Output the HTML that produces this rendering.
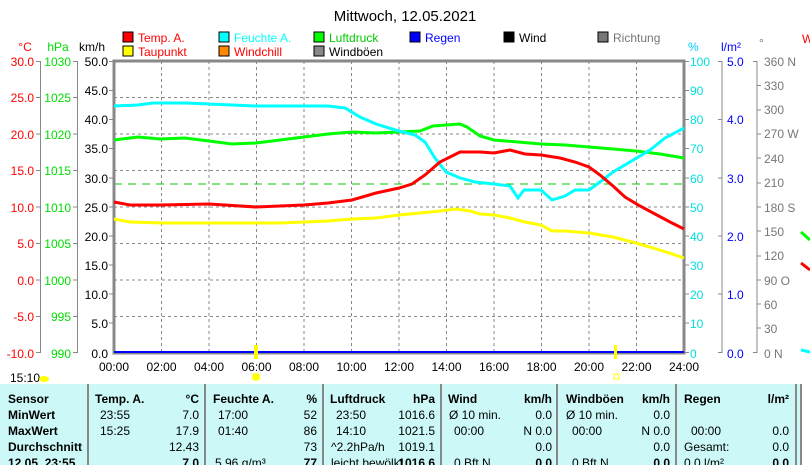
<!DOCTYPE html>
<html><head><meta charset="utf-8"><style>
body{margin:0;background:#fff;width:810px;height:465px;overflow:hidden;font-family:"Liberation Sans",sans-serif}
svg text{font-family:"Liberation Sans",sans-serif;font-size:12px}
</style></head><body>
<svg width="810" height="465" xmlns="http://www.w3.org/2000/svg">
<text x="405" y="21" text-anchor="middle" font-size="15" style="font-size:15px">Mittwoch, 12.05.2021</text>
<g font-size="12">
<rect x="123" y="32" width="10" height="10" fill="#f00" stroke="#000"/><text x="138" y="42" fill="#f00">Temp. A.</text>
<rect x="123" y="46" width="10" height="10" fill="#ff0" stroke="#000"/><text x="138" y="56" fill="#f00">Taupunkt</text>
<rect x="219" y="32" width="10" height="10" fill="#0ff" stroke="#000"/><text x="234" y="42" fill="#0ff">Feuchte A.</text>
<rect x="219" y="46" width="10" height="10" fill="#f80" stroke="#000"/><text x="234" y="56" fill="#f00">Windchill</text>
<rect x="314" y="32" width="10" height="10" fill="#0f0" stroke="#000"/><text x="329" y="42" fill="#0c0">Luftdruck</text>
<rect x="314" y="46" width="10" height="10" fill="#888" stroke="#000"/><text x="329" y="56">Windböen</text>
<rect x="410" y="32" width="10" height="10" fill="#00f" stroke="#000"/><text x="425" y="42" fill="#00f">Regen</text>
<rect x="504" y="32" width="10" height="10" fill="#000" stroke="#000"/><text x="519" y="42">Wind</text>
<rect x="598" y="32" width="10" height="10" fill="#777" stroke="#000"/><text x="613" y="42" fill="#777">Richtung</text>
</g>
<text x="25" y="51" fill="#f00" text-anchor="middle">°C</text>
<text x="58" y="51" fill="#0d0" text-anchor="middle">hPa</text>
<text x="92" y="51" text-anchor="middle">km/h</text>
<text x="688" y="51" fill="#0cf">%</text>
<text x="721" y="51" fill="#00f">l/m²</text>
<text x="759" y="47" fill="#777" font-size="9">°</text>
<text x="802" y="43" fill="#f00">W</text>
<g stroke="#888" stroke-dasharray="3,3" stroke-width="1">
<line x1="161.5" y1="61" x2="161.5" y2="353"/><line x1="209" y1="61" x2="209" y2="353"/><line x1="256.5" y1="61" x2="256.5" y2="353"/><line x1="304" y1="61" x2="304" y2="353"/><line x1="351.5" y1="61" x2="351.5" y2="353"/><line x1="399" y1="61" x2="399" y2="353"/><line x1="446.5" y1="61" x2="446.5" y2="353"/><line x1="494" y1="61" x2="494" y2="353"/><line x1="541.5" y1="61" x2="541.5" y2="353"/><line x1="589" y1="61" x2="589" y2="353"/><line x1="636.5" y1="61" x2="636.5" y2="353"/>
<line x1="114" y1="97.5" x2="684" y2="97.5"/><line x1="114" y1="134" x2="684" y2="134"/><line x1="114" y1="170.5" x2="684" y2="170.5"/><line x1="114" y1="207" x2="684" y2="207"/><line x1="114" y1="243.5" x2="684" y2="243.5"/><line x1="114" y1="280" x2="684" y2="280"/><line x1="114" y1="316.5" x2="684" y2="316.5"/>
</g>
<line x1="114" y1="184" x2="684" y2="184" stroke="#0c0" stroke-dasharray="8,6"/>
<rect x="114" y="61" width="570" height="292" fill="none" stroke="#888" stroke-width="3"/>
<g stroke="#888"><line x1="40.5" y1="61" x2="40.5" y2="353"/><line x1="77.5" y1="61" x2="77.5" y2="353"/>
<line x1="722" y1="61" x2="722" y2="353"/><line x1="757" y1="61" x2="757" y2="353"/>
<path d="M36 61.5h5M36 97.5h5M36 134h5M36 170.5h5M36 207h5M36 243.5h5M36 280h5M36 316.5h5M36 352.5h5
M73 61.5h5M73 97.5h5M73 134h5M73 170.5h5M73 207h5M73 243.5h5M73 280h5M73 316.5h5M73 352.5h5
M109 61.5h5M109 90.5h5M109 119.5h5M109 148.5h5M109 178h5M109 207h5M109 236h5M109 265h5M109 294h5M109 323h5
M684 61.5h5M684 90.5h5M684 119.5h5M684 148.5h5M684 178h5M684 207h5M684 236h5M684 265h5M684 294h5M684 323h5M684 352.5h5
M718 61.5h4M718 119.5h4M718 178h4M718 236h4M718 294h4M718 352.5h4
M753 61.5h4M757 85.5h4M757 110h4M757 134h4M757 158h4M757 183h4M757 207h4M757 231h4M757 256h4M757 280h4M757 304h4M757 328h4M753 352.5h4"/></g>
<g font-size="12" text-anchor="end">
<g fill="#f00"><text x="34" y="66">30.0</text><text x="34" y="102">25.0</text><text x="34" y="139">20.0</text><text x="34" y="175">15.0</text><text x="34" y="212">10.0</text><text x="34" y="248">5.0</text><text x="34" y="285">0.0</text><text x="34" y="321">-5.0</text><text x="34" y="358">-10.0</text></g>
<g fill="#0d0"><text x="71" y="66">1030</text><text x="71" y="102">1025</text><text x="71" y="139">1020</text><text x="71" y="175">1015</text><text x="71" y="212">1010</text><text x="71" y="248">1005</text><text x="71" y="285">1000</text><text x="71" y="321">995</text><text x="71" y="358">990</text></g>
<g><text x="108" y="66">50.0</text><text x="108" y="95">45.0</text><text x="108" y="124">40.0</text><text x="108" y="153">35.0</text><text x="108" y="183">30.0</text><text x="108" y="212">25.0</text><text x="108" y="241">20.0</text><text x="108" y="270">15.0</text><text x="108" y="299">10.0</text><text x="108" y="328">5.0</text><text x="108" y="358">0.0</text></g>
</g>
<g font-size="12" fill="#0dd"><text x="690" y="66">100</text><text x="690" y="95">90</text><text x="690" y="124">80</text><text x="690" y="153">70</text><text x="690" y="183">60</text><text x="690" y="212">50</text><text x="690" y="241">40</text><text x="690" y="270">30</text><text x="690" y="299">20</text><text x="690" y="328">10</text><text x="690" y="358">0</text></g>
<g font-size="12" fill="#00f"><text x="727" y="66">5.0</text><text x="727" y="124">4.0</text><text x="727" y="183">3.0</text><text x="727" y="241">2.0</text><text x="727" y="299">1.0</text><text x="727" y="358">0.0</text></g>
<g font-size="11" fill="#777"><text x="764" y="66">360 N</text><text x="764" y="90">330</text><text x="764" y="114">300</text><text x="764" y="138">270 W</text><text x="764" y="163">240</text><text x="764" y="187">210</text><text x="764" y="212">180 S</text><text x="764" y="236">150</text><text x="764" y="260">120</text><text x="764" y="285">90 O</text><text x="764" y="309">60</text><text x="764" y="333">30</text><text x="764" y="358">0 N</text></g>
<g font-size="12" text-anchor="middle"><text x="114" y="371">00:00</text><text x="161.5" y="371">02:00</text><text x="209" y="371">04:00</text><text x="256.5" y="371">06:00</text><text x="304" y="371">08:00</text><text x="351.5" y="371">10:00</text><text x="399" y="371">12:00</text><text x="446.5" y="371">14:00</text><text x="494" y="371">16:00</text><text x="541.5" y="371">18:00</text><text x="589" y="371">20:00</text><text x="636.5" y="371">22:00</text><text x="684" y="371">24:00</text></g>
<line x1="114" y1="352" x2="684" y2="352" stroke="#00f" stroke-width="2"/>
<polyline fill="none" stroke="#0f0" stroke-width="3" points="114,140 138,137 160,139 185,138 209,141 232,144 256,143 280,140 304,137 328,134 352,132 376,133 399,132 420,131 433,126 446,125 460,124 467,127 480,136 494,140 518,142 541,144 565,145 589,147 613,149 636,151 660,154 684,158"/>
<polyline fill="none" stroke="#0ff" stroke-width="3" points="114,106 138,105 153,103 185,103 209,104 232,105 256,106 280,106 304,106 328,106 345,108 360,117 376,124 399,131 415,135 425,142 435,158 446,172 460,178 475,182 494,184 510,186 518,198 524,190 541,190 552,200 565,196 575,190 589,190 600,182 613,172 630,162 650,150 665,138 684,128"/>
<polyline fill="none" stroke="#f00" stroke-width="3" points="114,202 130,205 161,205 209,204 256,207 280,206 304,205 328,203 352,200 376,193 399,188 412,184 425,175 440,162 460,152 480,152 494,153 510,150 525,154 541,155 560,158 575,162 589,167 600,175 613,186 625,197 640,206 655,214 670,222 684,229"/>
<polyline fill="none" stroke="#ff0" stroke-width="3" points="114,219 130,222 161,223 209,223 256,223 280,223 304,222 328,221 352,219 376,218 399,215 420,213 440,211 456,209 470,211 480,214 494,215 510,218 525,222 541,225 552,231 565,231 589,233 613,237 636,243 660,250 684,258"/>
<rect x="254" y="345" width="4" height="14" fill="#ff0"/>
<rect x="614" y="345" width="3" height="14" fill="#ff0"/>
<circle cx="256" cy="377" r="4" fill="#ff0"/>
<rect x="614" y="374" width="5" height="5" fill="none" stroke="#ff0"/>
<text x="10" y="382" font-size="12">15:10</text>
<ellipse cx="44" cy="379" rx="5" ry="3" fill="#ff0"/>
<line x1="801" y1="232" x2="810" y2="240" stroke="#0f0" stroke-width="3"/>
<line x1="801" y1="263" x2="810" y2="270" stroke="#f00" stroke-width="3"/>
<line x1="801" y1="350" x2="810" y2="352" stroke="#0ff" stroke-width="3"/>
<rect x="0" y="384" width="800" height="81" fill="#ccf8f8"/>
<g stroke="#888" stroke-width="2"><line x1="88" y1="384" x2="88" y2="465"/><line x1="205" y1="384" x2="205" y2="465"/><line x1="323" y1="384" x2="323" y2="465"/><line x1="441" y1="384" x2="441" y2="465"/><line x1="557" y1="384" x2="557" y2="465"/><line x1="676" y1="384" x2="676" y2="465"/><line x1="796" y1="384" x2="796" y2="465"/><line x1="801" y1="384" x2="801" y2="465"/></g>
<g font-size="12">
<g font-weight="bold"><text x="8" y="403">Sensor</text><text x="8" y="419">MinWert</text><text x="8" y="435">MaxWert</text><text x="8" y="451">Durchschnitt</text><text x="8" y="467">12.05. 23:55</text>
<text x="95" y="403">Temp. A.</text><text x="213" y="403">Feuchte A.</text><text x="330" y="403">Luftdruck</text><text x="448" y="403">Wind</text><text x="566" y="403">Windböen</text><text x="684" y="403">Regen</text></g>
<g text-anchor="end" font-weight="bold"><text x="199" y="403">°C</text><text x="317" y="403">%</text><text x="435" y="403">hPa</text><text x="552" y="403">km/h</text><text x="670" y="403">km/h</text><text x="789" y="403">l/m²</text>
<text x="199" y="467">7.0</text><text x="317" y="467">77</text><text x="435" y="467">1016.6</text><text x="552" y="467">0.0</text><text x="670" y="467">0.0</text><text x="789" y="467">0.0</text></g>
<text x="100" y="419">23:55</text><text x="100" y="435">15:25</text>
<text x="218" y="419">17:00</text><text x="218" y="435">01:40</text><text x="215" y="467">5.96 g/m³</text>
<text x="336" y="419">23:50</text><text x="336" y="435">14:10</text><text x="331" y="451">^2.2hPa/h</text><text x="331" y="467">leicht bewölkt</text>
<text x="449" y="419">Ø 10 min.</text><text x="454" y="435">00:00</text><text x="454" y="467">0 Bft N</text>
<text x="566" y="419">Ø 10 min.</text><text x="572" y="435">00:00</text><text x="572" y="467">0 Bft N</text>
<text x="691" y="435">00:00</text><text x="684" y="451">Gesamt:</text><text x="684" y="467">0.0 l/m²</text>
<g text-anchor="end"><text x="199" y="419">7.0</text><text x="199" y="435">17.9</text><text x="199" y="451">12.43</text>
<text x="317" y="419">52</text><text x="317" y="435">86</text><text x="317" y="451">73</text>
<text x="435" y="419">1016.6</text><text x="435" y="435">1021.5</text><text x="435" y="451">1019.1</text>
<text x="552" y="419">0.0</text><text x="552" y="435">N 0.0</text><text x="552" y="451">0.0</text>
<text x="670" y="419">0.0</text><text x="670" y="435">N 0.0</text><text x="670" y="451">0.0</text>
<text x="789" y="435">0.0</text><text x="789" y="451">0.0</text></g>
</g>
</svg>
</body></html>
